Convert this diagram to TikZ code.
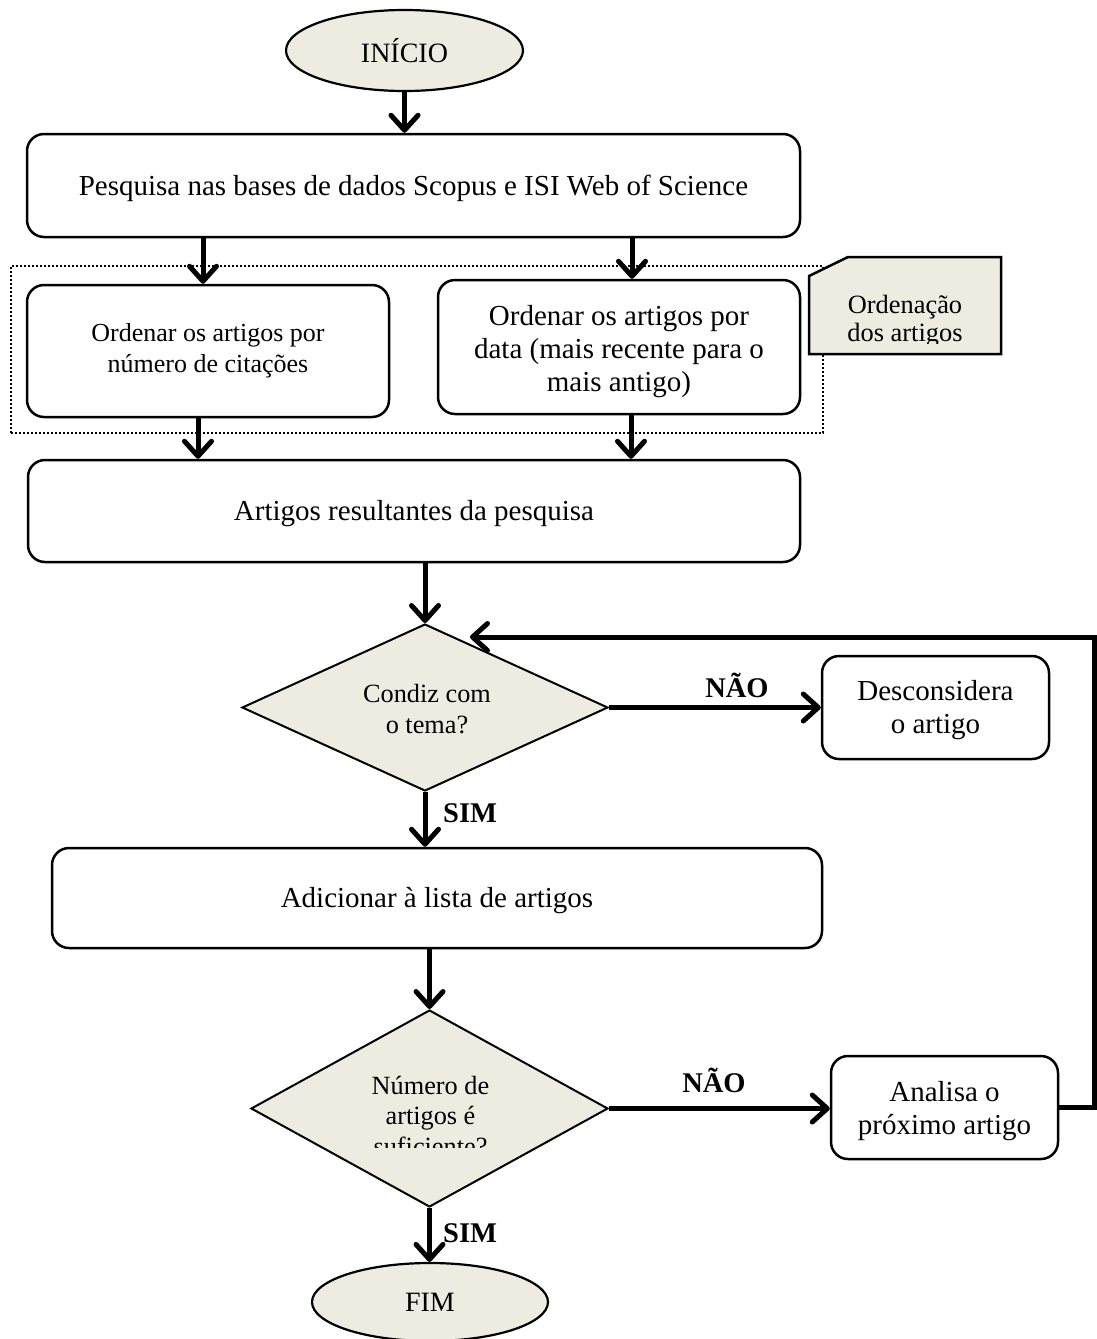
\documentclass[tikz,border=0pt]{standalone}
\usepackage{fontspec}
\setmainfont{Liberation Serif}
\usetikzlibrary{arrows.meta,shapes.geometric}
\definecolor{tan}{HTML}{EEECE1}

\begin{document}
\begin{tikzpicture}[x=1pt,y=-1pt,
  txt/.style={font=\fontsize{29}{33}\selectfont},
  small/.style={font=\fontsize{26.3}{30.5}\selectfont},
  box/.style={draw,line width=2.5pt,rounded corners=17pt,inner sep=0pt,align=center,txt},
  term/.style={draw,ellipse,fill=tan,line width=2.2pt,inner sep=0pt,font=\fontsize{28}{32}\selectfont},
  decision/.style={draw,diamond,fill=tan,line width=2pt,inner sep=0pt},
  flow/.style={line width=5pt,-{Straight Barb[length=15pt,width=27pt,round]}},
  lbl/.style={font=\fontsize{28.5}{32}\selectfont\bfseries,inner sep=0pt},
]
\useasboundingbox (0,0) rectangle (1097,1339);

% grouping frame around the two sorting steps
\node[draw,dash pattern=on 2pt off 2pt,line width=2pt,minimum width=812pt,minimum height=167pt,inner sep=0pt] (group) at (417,349.5) {};

% start / end terminals
\node[term,minimum width=237pt,minimum height=81pt] (start) at (404.5,50.5) {INÍCIO};
\node[term,minimum width=236pt,minimum height=78pt] (stop) at (430,1302) {FIM};

% process boxes
\node[box,minimum width=773pt,minimum height=103pt] (search) at (413.5,185.5) {};
\node[txt,inner sep=0pt] (searchtext) at (413.5,188) {Pesquisa nas bases de dados Scopus e ISI Web of Science};
\node[box,minimum width=362pt,minimum height=132pt,font=\fontsize{26}{31}\selectfont] (bycit) at (208,351) {Ordenar os artigos por\\número de citações};
\node[box,minimum width=362pt,minimum height=134pt] (bydate) at (619,347) {};
\begin{scope}
  \clip (441,283) rectangle (797,397);
  \node[txt,align=center,inner sep=0pt] (bydatetext) at (619,352) {Ordenar os artigos por\\data (mais recente para o\\mais antigo)};
\end{scope}
\node[box,minimum width=772pt,minimum height=102pt] (results) at (414,511) {};
\node[txt,inner sep=0pt] (resultstext) at (414,514) {Artigos resultantes da pesquisa};
\node[box,minimum width=770pt,minimum height=100pt] (add) at (437,898) {};
\node[txt,inner sep=0pt] (addtext) at (437,901) {Adicionar à lista de artigos};
\node[box,minimum width=227pt,minimum height=103pt] (discard) at (935.5,707.5) {};
\node[txt,align=center,inner sep=0pt] (discardtext) at (935.5,710) {Desconsidera\\o artigo};
\node[box,minimum width=227pt,minimum height=103pt] (next) at (944.5,1107.5) {};
\node[txt,align=center,inner sep=0pt] (nexttext) at (944.5,1111) {Analisa o\\próximo artigo};

% side note with a clipped corner
\draw[fill=tan,line width=2.5pt] (809,276) -- (848,257) -- (1001,257) -- (1001,354) -- (809,354) -- cycle;
\begin{scope}
  \clip (812,260) rectangle (998,343);
  \node[font=\fontsize{26.4}{28}\selectfont,align=center,inner sep=0pt] (note) at (905,321) {Ordenação\\dos artigos};
\end{scope}

% decisions
\node[decision,minimum width=366pt,minimum height=167pt] (match) at (425,707.5) {};
\node[small,align=center,inner sep=0pt] (matchtext) at (427,709) {Condiz com\\o tema?};
\node[decision,minimum width=357pt,minimum height=197pt] (enough) at (429.5,1108.5) {};
\begin{scope}
  \clip (300,1060) rectangle (560,1147);
  \node[small,align=center,inner sep=0pt] (enoughtext) at (430.5,1116) {Número de\\artigos é\\suficiente?};
\end{scope}

% connectors
\draw[flow] (start.south) -- (start.south |- search.north);
\draw[flow] ([xshift=-5pt]bycit.north |- search.south) -- ([xshift=-5pt]bycit.north);
\draw[flow] ([xshift=13pt]bydate.north |- search.south) -- ([xshift=13pt]bydate.north);
\draw[flow] ([xshift=-10pt]bycit.south) -- ([xshift=-10pt]bycit.south |- results.north);
\draw[flow] ([xshift=12pt]bydate.south) -- ([xshift=12pt]bydate.south |- results.north);
\draw[flow] (match.north |- results.south) -- (match.north);
\draw[flow] (match.east) -- (discard.west);
\draw[flow] (match.south) -- (match.south |- add.north);
\draw[flow] (enough.north |- add.south) -- (enough.north);
\draw[flow] (enough.east) -- (enough.east -| next.west);
\draw[flow] (enough.south) -- (enough.south |- stop.north);
\coordinate (loopcorner) at (1094.5,637);
\coordinate (loopend) at (470,637);
\draw[flow] (next.east) -| (loopcorner) -- (loopend);

% branch labels
\node[lbl,anchor=base] (no1) at (737,697) {NÃO};
\node[lbl,anchor=base] (no2) at (714,1092) {NÃO};
\node[lbl,anchor=base west] (yes1) at (443,822) {SIM};
\node[lbl,anchor=base west] (yes2) at (443,1242) {SIM};
\end{tikzpicture}
\end{document}
